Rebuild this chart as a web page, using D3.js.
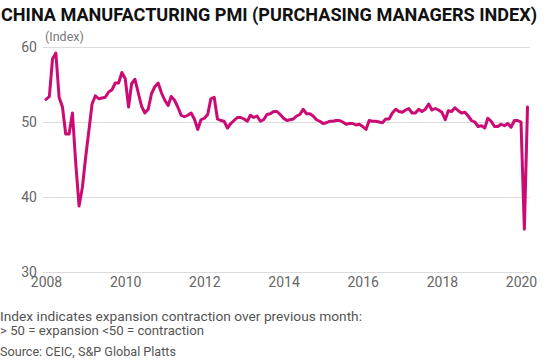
<!DOCTYPE html>
<html>
<head>
<meta charset="utf-8">
<script src="https://cdn.jsdelivr.net/npm/d3@7"></script>
<style>
  html, body { margin: 0; padding: 0; background: #fff; }
  svg { display: block; }
</style>
</head>
<body>
<svg id="chart" width="560" height="362"></svg>
<script>
// ---- Data (China official manufacturing PMI, monthly, Jan 2008 – Mar 2020) ----
const startYear = 2008;
const pmi2008 = [53.0, 53.4, 58.4, 59.2, 53.3, 52.0, 48.4, 48.4, 51.2, 44.6, 38.8, 41.2];
const pmi2009 = [45.3, 49.0, 52.4, 53.5, 53.1, 53.2, 53.3, 54.0, 54.3, 55.2, 55.2, 56.6];
const pmi2010 = [55.8, 52.0, 55.1, 55.7, 53.9, 52.1, 51.2, 51.7, 53.8, 54.7, 55.2, 53.9];
const pmi2011 = [52.9, 52.2, 53.4, 52.9, 52.0, 50.9, 50.7, 50.9, 51.2, 50.4, 49.0, 50.3];
const pmi2012 = [50.5, 51.0, 53.1, 53.3, 50.4, 50.2, 50.1, 49.2, 49.8, 50.2, 50.6, 50.6];
const pmi2013 = [50.4, 50.1, 50.9, 50.6, 50.8, 50.1, 50.3, 51.0, 51.1, 51.4, 51.4, 51.0];
const pmi2014 = [50.5, 50.2, 50.3, 50.4, 50.8, 51.0, 51.7, 51.1, 51.1, 50.8, 50.3, 50.1];
const pmi2015 = [49.8, 49.9, 50.1, 50.1, 50.2, 50.2, 50.0, 49.7, 49.8, 49.8, 49.6, 49.7];
const pmi2016 = [49.4, 49.0, 50.2, 50.1, 50.1, 50.0, 49.9, 50.4, 50.4, 51.2, 51.7, 51.4];
const pmi2017 = [51.3, 51.6, 51.8, 51.2, 51.2, 51.7, 51.4, 51.7, 52.4, 51.6, 51.8, 51.6];
const pmi2018 = [51.3, 50.3, 51.5, 51.4, 51.9, 51.5, 51.2, 51.3, 50.8, 50.2, 50.0, 49.4];
const pmi2019 = [49.5, 49.2, 50.5, 50.1, 49.4, 49.4, 49.7, 49.5, 49.8, 49.3, 50.2, 50.2];
const pmi2020 = [50.0, 35.7, 52.0];

const yTicks = [30, 40, 50, 60];
const xTickYears = [2008, 2010, 2012, 2014, 2016, 2018, 2020];

const titleText = "CHINA MANUFACTURING PMI (PURCHASING MANAGERS INDEX)";
const unitText = "(Index)";
const noteLines = [
  "Index indicates expansion contraction over previous month:",
  "> 50 = expansion <50 = contraction"
];
const sourceText = "Source: CEIC, S&P Global Platts";

// ---- Build series ----
const allYears = [pmi2008, pmi2009, pmi2010, pmi2011, pmi2012, pmi2013, pmi2014,
                  pmi2015, pmi2016, pmi2017, pmi2018, pmi2019, pmi2020];
const series = [];
allYears.forEach((arr, yi) => {
  arr.forEach((v, m) => series.push({ date: new Date(startYear + yi, m, 1), value: v }));
});

// ---- Chart ----
const svg = d3.select("#chart");
const font = "Roboto, 'Noto Sans', sans-serif";

const x = d3.scaleTime()
  .domain([new Date(2008, 0, 1), new Date(2020, 0, 1)])
  .range([46, 521]);
const y = d3.scaleLinear().domain([30, 60]).range([272, 47]);

// Title
svg.append("text")
  .attr("x", 1).attr("y", 20.5)
  .attr("font-family", font).attr("font-weight", 700)
  .attr("font-size", 19).attr("fill", "#111")
  .attr("textLength", 536).attr("lengthAdjust", "spacingAndGlyphs")
  .text(titleText);

// Unit label
svg.append("text")
  .attr("x", 45).attr("y", 41)
  .attr("font-family", font).attr("font-size", 12.5).attr("fill", "#777")
  .text(unitText);

// Grid lines + y labels
const yAxis = d3.axisLeft(y).tickValues(yTicks).tickSize(-(530 - 43)).tickPadding(6);
const gy = svg.append("g").attr("transform", "translate(43,0)").call(yAxis);
gy.select(".domain").remove();
gy.selectAll(".tick line").attr("stroke", "#dcdcdc").attr("stroke-width", 1);
gy.selectAll(".tick text")
  .attr("font-family", font).attr("font-size", 14).attr("fill", "#666")
  .attr("dy", "0.32em");

// x axis labels
const xAxis = d3.axisBottom(x)
  .tickValues(xTickYears.map(yr => new Date(yr, 0, 1)))
  .tickFormat(d3.timeFormat("%Y")).tickSize(0).tickPadding(0);
const gx = svg.append("g").attr("transform", "translate(0,277)").call(xAxis);
gx.select(".domain").remove();
gx.selectAll(".tick text")
  .attr("font-family", font).attr("font-size", 14).attr("fill", "#666")
  .attr("dy", "0.71em");

// Line
const line = d3.line().x(d => x(d.date)).y(d => y(d.value)).curve(d3.curveLinear);
svg.append("path")
  .datum(series)
  .attr("d", line)
  .attr("fill", "none")
  .attr("stroke", "#cc0a73")
  .attr("stroke-width", 3)
  .attr("stroke-linejoin", "round")
  .attr("stroke-linecap", "round");

// Notes
const noteWidths = [362, 204];
noteLines.forEach((t, i) => {
  svg.append("text")
    .attr("x", 0).attr("y", 321 + i * 13.5)
    .attr("font-family", font).attr("font-size", 13).attr("fill", "#555")
    .attr("textLength", noteWidths[i]).attr("lengthAdjust", "spacingAndGlyphs")
    .text(t);
});
svg.append("text")
  .attr("x", 0).attr("y", 356)
  .attr("font-family", font).attr("font-size", 13).attr("fill", "#555")
  .attr("textLength", 176).attr("lengthAdjust", "spacingAndGlyphs")
  .text(sourceText);
</script>
</body>
</html>
